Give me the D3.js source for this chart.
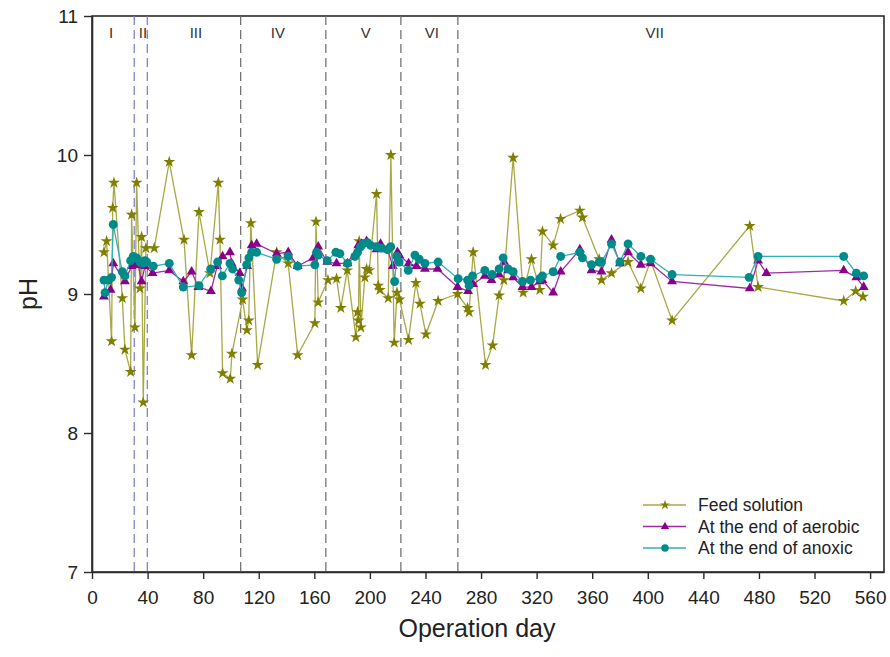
<!DOCTYPE html>
<html>
<head>
<meta charset="utf-8">
<script src="https://cdn.jsdelivr.net/npm/d3@7"></script>
<style>
  body { margin: 0; background: #fff; }
  svg { display: block; font-family: "Liberation Sans", Arial, sans-serif; }
</style>
</head>
<body>
<svg id="chart"></svg>
<script>
// SVG
var width = 890;
var height = 657;

// Data: [operation day, pH]
var feed = [
  [8.6, 9.30], [10.5, 9.38], [14.1, 8.66], [14.9, 9.62], [15.8, 9.80], [21.8, 8.97], [23.7, 8.60],
  [27.8, 8.44], [28.5, 9.57], [30.9, 8.76], [32.1, 9.80], [34.5, 9.04], [35.7, 9.41], [36.9, 8.22],
  [38.8, 9.33], [44.8, 9.33], [55.6, 9.95], [66.2, 9.39], [71.7, 8.56], [77, 9.59], [84.9, 9.15],
  [90.9, 9.80], [92.1, 9.39], [94, 8.43], [99.5, 8.39], [100.7, 8.57], [108.4, 8.96], [111.5, 8.74],
  [112.8, 8.81], [114.3, 9.51], [119.2, 8.49], [132.9, 9.30], [141.2, 9.22], [148, 8.56], [160.4, 8.79],
  [161.2, 9.52], [162.8, 8.94], [169.8, 9.10], [176, 9.11], [179.1, 8.90], [183.7, 9.17], [189.9, 8.69],
  [191.1, 8.87], [191.8, 8.81], [192.3, 9.38], [193.5, 8.76], [196.4, 9.12], [197.6, 9.18], [199.5, 9.17],
  [204.8, 9.72], [206, 9.06], [207.2, 9.03], [213.2, 8.97], [215.1, 10.00], [217.5, 8.65], [219.5, 9.01],
  [221.3, 8.96], [227.8, 8.67], [233.1, 9.08], [236, 8.93], [240.3, 8.71], [249.1, 8.95], [263.1, 9.00],
  [270.3, 8.90], [271.4, 8.87], [274.3, 9.30], [283.2, 8.49], [288.3, 8.63], [293, 8.99], [296.4, 9.10],
  [303.1, 9.98], [310.3, 9.01], [316.3, 9.25], [322.3, 9.03], [324.2, 9.45], [331.9, 9.35], [337.2, 9.54],
  [351.1, 9.60], [353, 9.55], [365, 9.25], [366.7, 9.10], [373.9, 9.15], [385.8, 9.23], [395, 9.04],
  [402, 9.24], [417.5, 8.81], [473.4, 9.49], [479.4, 9.05], [541, 8.95], [549.6, 9.02], [554.9, 8.98]
];

var aerobic = [
  [8.6, 8.98], [13.4, 9.03], [15.3, 9.22], [23.7, 9.09], [28.5, 9.20], [31.4, 9.21], [33.3, 9.21],
  [35.7, 9.09], [38.1, 9.20], [43.6, 9.15], [55.6, 9.17], [65.7, 9.09], [71.7, 9.16], [76.5, 9.05],
  [85.6, 9.02], [90.1, 9.20], [94, 9.27], [99.3, 9.30], [100.5, 9.22], [106.3, 9.15], [108, 9.04],
  [111.7, 9.20], [114.9, 9.35], [118.5, 9.36], [132.9, 9.29], [141.2, 9.30], [148, 9.20], [159.2, 9.26],
  [162.8, 9.34], [169.3, 9.23], [176, 9.22], [183.9, 9.22], [191.6, 9.35], [194, 9.36], [197.6, 9.38],
  [204.8, 9.32], [207.7, 9.36], [212.7, 9.32], [216.5, 9.20], [219.8, 9.30], [221.1, 9.28], [227.9, 9.22],
  [233.5, 9.20], [239.6, 9.18], [248.7, 9.18], [263.1, 9.05], [270.7, 9.02], [274.3, 9.07], [282.7, 9.13],
  [287.5, 9.10], [293, 9.14], [296.6, 9.23], [299.5, 9.17], [303.1, 9.12], [309.8, 9.05], [316.3, 9.05],
  [322.3, 9.09], [324.2, 9.10], [331.9, 9.01], [337.3, 9.16], [351.1, 9.32], [359.5, 9.17], [366.7, 9.16],
  [373.9, 9.39], [379.9, 9.22], [385.8, 9.30], [395, 9.21], [402, 9.22], [417.5, 9.09], [473.4, 9.04],
  [479.4, 9.24], [485.4, 9.15], [541, 9.17], [550.1, 9.12], [555.4, 9.05]
];

var anoxic = [
  [8.6, 9.10], [9.4, 9.01], [11.7, 9.10], [14.1, 9.12], [15.3, 9.50], [21.8, 9.16], [23.7, 9.13],
  [27.8, 9.24], [29.7, 9.27], [32.1, 9.26], [34.5, 9.23], [36.5, 9.22], [38.1, 9.24], [39.4, 9.23],
  [44.1, 9.20], [55.6, 9.22], [65.7, 9.05], [77, 9.06], [85.4, 9.18], [90.4, 9.23], [93.8, 9.13],
  [99.3, 9.22], [101.2, 9.18], [105.6, 9.10], [107.7, 9.01], [111.3, 9.21], [112.9, 9.26], [114.9, 9.30],
  [118.5, 9.30], [132.9, 9.25], [141.2, 9.27], [148, 9.20], [160.4, 9.21], [161.6, 9.30], [162.8, 9.28],
  [169.3, 9.24], [175.5, 9.30], [178.4, 9.29], [183.9, 9.22], [189.2, 9.27], [191.1, 9.30], [193.3, 9.34],
  [195.2, 9.36], [198.3, 9.37], [200.5, 9.35], [204.8, 9.34], [208.4, 9.33], [212.7, 9.32], [215, 9.34],
  [217.8, 9.09], [219.4, 9.27], [221.1, 9.23], [227.6, 9.17], [232.4, 9.28], [235.5, 9.25], [239.6, 9.22],
  [249.1, 9.23], [263.5, 9.11], [270.3, 9.10], [271.4, 9.06], [273.9, 9.13], [282.7, 9.17], [288, 9.14],
  [293, 9.18], [295.9, 9.26], [299.5, 9.18], [303.1, 9.16], [309.8, 9.09], [315.6, 9.10], [322.3, 9.11],
  [324.2, 9.13], [331.9, 9.16], [337.3, 9.27], [351.1, 9.30], [353, 9.26], [359.5, 9.21], [365, 9.23],
  [366.7, 9.23], [373.9, 9.36], [379.9, 9.23], [385.8, 9.36], [395, 9.27], [402, 9.25], [417.5, 9.14],
  [472.9, 9.12], [479.4, 9.27], [541, 9.27], [550.1, 9.15], [555.4, 9.13]
];

// phase boundaries (days) and labels
var boundaries = [30.4, 39.8, 107, 168.3, 222.3, 263.3];
var phaseNames = ["I", "II", "III", "IV", "V", "VI", "VII"];
var phaseLabelDays = [13.7, 36.7, 74.8, 133.8, 197.1, 244.6, 405];

var xTicks = d3.range(0, 561, 40);
var yTicks = [7, 8, 9, 10, 11];

var seriesNames = ["Feed solution", "At the end of aerobic", "At the end of anoxic"];

// Scales
var xScale = d3.scaleLinear().domain([0, 570]).range([92, 884]);
var yScale = d3.scaleLinear().domain([7, 11]).range([572, 16]);

var svg = d3.select("#chart")
    .attr("width", width)
    .attr("height", height);

// frame
svg.append("rect")
    .attr("x", xScale(0))
    .attr("y", yScale(11))
    .attr("width", xScale(570) - xScale(0))
    .attr("height", yScale(7) - yScale(11))
    .attr("fill", "none")
    .attr("stroke", "#2b2b2b")
    .attr("stroke-width", 1.6);

// Axes
var xAxis = d3.axisBottom(xScale).tickValues(xTicks).tickSize(7).tickSizeOuter(0).tickPadding(12);
var yAxis = d3.axisLeft(yScale).tickValues(yTicks).tickSize(8).tickSizeOuter(0).tickPadding(6)
    .tickFormat(d3.format("d"));

var gx = svg.append("g")
    .attr("transform", "translate(0," + yScale(7) + ")")
    .call(xAxis);
var gy = svg.append("g")
    .attr("transform", "translate(" + xScale(0) + ",0)")
    .call(yAxis);

[gx, gy].forEach(function(g) {
  g.select(".domain").attr("stroke", "#2b2b2b").attr("stroke-width", 1.6);
  g.selectAll(".tick line").attr("stroke", "#2b2b2b").attr("stroke-width", 1.4);
  g.selectAll(".tick text")
      .attr("fill", "#222")
      .style("font-size", "19px")
      .style("font-family", "'Liberation Sans', Arial, sans-serif");
});

// axis titles
svg.append("text")
    .attr("x", 477)
    .attr("y", 637)
    .attr("text-anchor", "middle")
    .attr("fill", "#222")
    .style("font-size", "25px")
    .text("Operation day");

svg.append("text")
    .attr("transform", "translate(37," + yScale(9) + ") rotate(-90)")
    .attr("text-anchor", "middle")
    .attr("fill", "#222")
    .style("font-size", "25px")
    .text("pH");

// phase boundaries
svg.append("g")
  .selectAll("line")
  .data(boundaries)
  .join("line")
    .attr("x1", d => xScale(d))
    .attr("x2", d => xScale(d))
    .attr("y1", yScale(11))
    .attr("y2", yScale(7))
    .attr("stroke", (d, i) => i < 2 ? "#7878cc" : "#6a6a6a")
    .attr("stroke-width", 1.2)
    .attr("stroke-dasharray", "9,5");

svg.append("g")
  .selectAll("text")
  .data(phaseNames)
  .join("text")
    .attr("x", (d, i) => xScale(phaseLabelDays[i]))
    .attr("y", 38)
    .attr("text-anchor", "middle")
    .attr("fill", "#333")
    .style("font-size", "15px")
    .style("font-family", "'Liberation Sans Narrow', 'Arial Narrow', 'Liberation Sans', sans-serif")
    .text(d => d);

// series
var line = d3.line()
    .x(d => xScale(d[0]))
    .y(d => yScale(d[1]));

var styles = [
  { data: feed, line: "#a8a845", fill: "#7f7f00", symbol: d3.symbolStar, size: 44 },
  { data: aerobic, line: "#a02aa0", fill: "#8b008b", symbol: d3.symbolTriangle, size: 42 },
  { data: anoxic, line: "#33b0b0", fill: "#008b8b", symbol: d3.symbolCircle, size: 62 }
];

styles.forEach(function(s) {
  var g = svg.append("g");
  g.append("path")
      .attr("fill", "none")
      .attr("stroke", s.line)
      .attr("stroke-width", 1.3)
      .attr("d", line(s.data));
  g.selectAll("path.pt")
    .data(s.data)
    .join("path")
      .attr("class", "pt")
      .attr("transform", d => "translate(" + xScale(d[0]) + "," + yScale(d[1]) + ")")
      .attr("d", d3.symbol().type(s.symbol).size(s.size))
      .attr("fill", s.fill);
});

// legend
var legend = svg.append("g");
styles.forEach(function(s, i) {
  var y = 505 + i * 21.5;
  legend.append("line")
      .attr("x1", 643).attr("x2", 686)
      .attr("y1", y).attr("y2", y)
      .attr("stroke", s.line)
      .attr("stroke-width", 1.3);
  legend.append("path")
      .attr("transform", "translate(665," + y + ")")
      .attr("d", d3.symbol().type(s.symbol).size(s.size * 0.7))
      .attr("fill", s.fill);
  legend.append("text")
      .attr("x", 698)
      .attr("y", y + 6)
      .attr("fill", "#222")
      .style("font-size", "17.5px")
      .text(seriesNames[i]);
});
</script>
</body>
</html>
